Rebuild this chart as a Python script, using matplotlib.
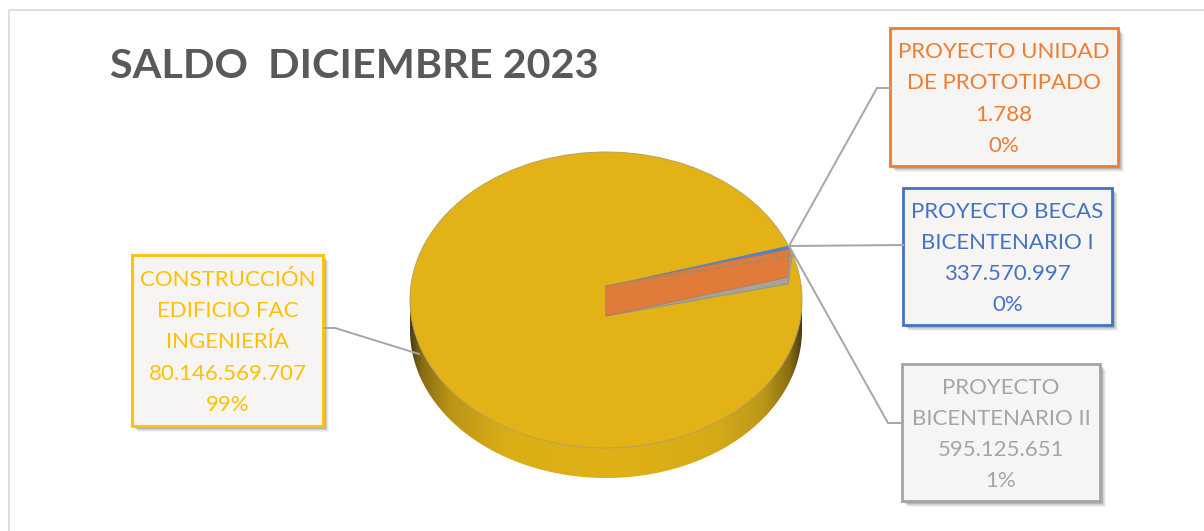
import numpy as np
import matplotlib
matplotlib.use("Agg")
import matplotlib.pyplot as plt
from matplotlib.colors import LinearSegmentedColormap
from matplotlib.patches import Polygon, Rectangle

plt.rcParams['font.family'] = ['Lato', 'DejaVu Sans']

# Data, in the order the slices run clockwise
NAMES = ["PROYECTO BECAS\nBICENTENARIO I",
         "PROYECTO UNIDAD\nDE PROTOTIPADO",
         "PROYECTO\nBICENTENARIO II",
         "CONSTRUCCIÓN\nEDIFICIO FAC\nINGENIERÍA"]
VALUES = [337570997, 1788, 595125651, 80146569707]
COLORS = ["#5b7fc0", "#e07b39", "#a5a597", "#e3b216"]
TEXT_COLORS = ["#4472c4", "#ed7d31", "#a5a5a5", "#ffc000"]
TITLE = "SALDO  DICIEMBRE 2023"

W, H = 1204, 531

# Pie geometry in pixels
CX, CY, RX, RY = 606, 300, 196, 148
DEPTH = 30
START = 21.5

# box (left, top, right, bottom) per slice
BOXES = [(903, 188, 1112, 325), (890, 28, 1118, 166),
         (902, 364, 1100, 501), (132, 255, 323, 426)]
LEADERS = [[(789, 246), (903, 245)],
           [(789, 246), (877, 88), (890, 88)],
           [(789, 246), (888, 423), (902, 423)],
           [(419, 354), (335, 328), (324, 328)]]


def fmt(v):
    return f"{v:,}".replace(",", ".")


def rim(theta, drop=0, dx=0):
    t = np.radians(theta)
    return (CX + RX * np.cos(t) + dx, CY - RY * np.sin(t) + drop)


fig = plt.figure(figsize=(W / 100, H / 100), dpi=100, facecolor="white")

# Bottom layer: side wall of the disc, with the shading along x
wall_ax = fig.add_axes([0, 0, 1, 1], zorder=1)
wall_ax.set_xlim(0, W)
wall_ax.set_ylim(H, 0)
wall_ax.axis("off")
shade = LinearSegmentedColormap.from_list("wall", [
    (0.00, "#4f3f10"), (0.03, "#8a6d14"), (0.10, "#bb9416"), (0.25, "#dcae17"),
    (0.55, "#dfb016"), (0.78, "#d6aa18"), (0.90, "#bd9818"), (0.97, "#8a6e14"),
    (1.00, "#4f3f10")])
grad = wall_ax.imshow(np.linspace(0, 1, 256)[None, :], cmap=shade, aspect="auto",
                      extent=(CX - RX, CX + RX, CY + RY + DEPTH, CY), zorder=1)
t = np.radians(np.linspace(180, 360, 200))
lower_arc = np.c_[CX + RX * np.cos(t), CY + DEPTH - RY * np.sin(t)]
clip = Polygon(np.r_[[(CX - RX, CY)], lower_arc, [(CX + RX, CY)]],
               transform=wall_ax.transData, facecolor="none", edgecolor="none")
wall_ax.add_patch(clip)
grad.set_clip_path(clip)
wall_ax.set_xlim(0, W)
wall_ax.set_ylim(H, 0)

# Top face of the disc: a pie in an axes squashed to the ellipse
pie_ax = fig.add_axes([(CX - RX) / W, 1 - (CY + RY) / H, 2 * RX / W, 2 * RY / H], zorder=2)
wedges, _ = pie_ax.pie(VALUES, colors=COLORS, startangle=START, counterclock=False,
                       radius=1, wedgeprops=dict(edgecolor="#b5a25c", linewidth=0.7, clip_on=False))
pie_ax.set_aspect("auto")
pie_ax.set_xlim(-1, 1)
pie_ax.set_ylim(-1, 1)
pie_ax.axis("off")

# Overlay: inner walls of the small slices, leader lines, boxes
ax = fig.add_axes([0, 0, 1, 1], zorder=3)
ax.set_xlim(0, W)
ax.set_ylim(H, 0)
ax.axis("off")

hub_top, hub_low = (CX, CY - 14), (CX, CY + 16)
blue_end = wedges[0].theta1
gray_end = wedges[2].theta1
ax.add_patch(Polygon([hub_top, hub_low, rim(gray_end, 28, -5), rim(gray_end, 0, -1)],
                     facecolor=COLORS[2], edgecolor="#94948a", linewidth=0.8))
ax.add_patch(Polygon([hub_top, rim(wedges[0].theta2), rim(blue_end)],
                     facecolor=COLORS[0], edgecolor="none"))
ax.add_patch(Polygon([hub_top, hub_low, rim(blue_end, 28, -3), rim(blue_end)],
                     facecolor=COLORS[1], edgecolor="#b8775a", linewidth=0.6))
ax.plot(*zip(hub_top, rim(gray_end, 0, -1)), color="#a08a70", lw=0.8)

for pts in LEADERS:
    ax.plot(*zip(*pts), color="#a6a6a6", lw=1.4, solid_joinstyle="miter")

total = sum(VALUES)
for name, val, col, (l, t_, r, b) in zip(NAMES, VALUES, TEXT_COLORS, BOXES):
    # soft shadow
    for off, a in [(6, 0.06), (5, 0.08), (4, 0.12), (3, 0.18)]:
        ax.add_patch(Rectangle((l + off, t_ + off), r - l, b - t_, facecolor="#404040",
                               edgecolor="none", alpha=a))
    ax.add_patch(Rectangle((l, t_), r - l, b - t_, facecolor="#f7f5f4", edgecolor=col,
                           linewidth=2.0))
    label = f"{name}\n{fmt(val)}\n{round(val / total * 100)}%"
    ax.text((l + r) / 2, (t_ + b) / 2 + 2, label, color=col, fontsize=16, ha="center",
            va="center", linespacing=1.69)

ax.text(110, 67, TITLE, color="#595959", fontsize=29.8, fontweight="bold",
        ha="left", va="center")

# Chart frame
ax.plot([9, 9, W], [H, 10, 10], color="#d9d9d9", lw=1.2)

fig.savefig("out.png", dpi=100)
